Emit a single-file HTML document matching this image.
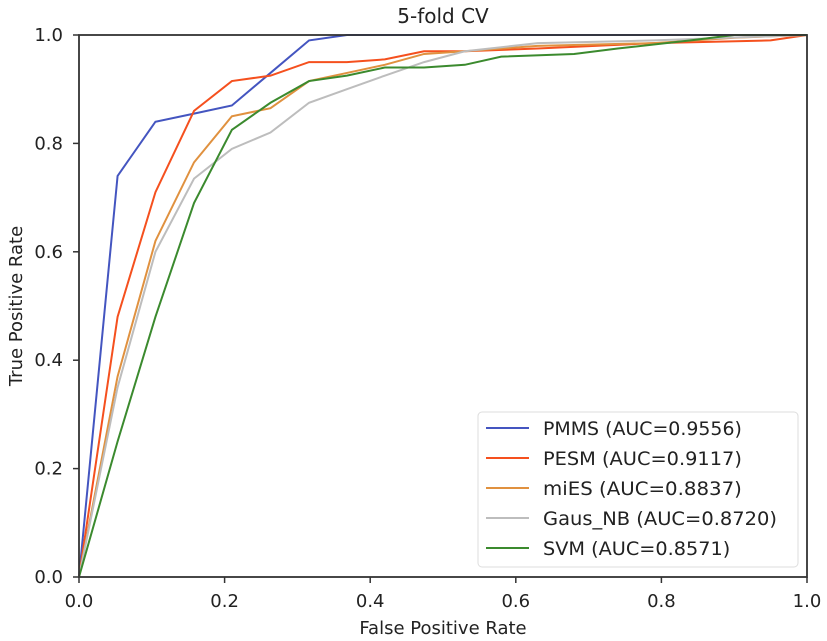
<!DOCTYPE html>
<html><head><meta charset="utf-8"><style>
body{margin:0;background:#fff;}
svg{display:block;font-family:"DejaVu Sans","Liberation Sans",sans-serif;}
</style></head><body>
<svg id="chart" width="827" height="641">
<text x="443" y="23" font-size="20" text-anchor="middle" fill="#222">5-fold CV</text>
<text x="443" y="634" font-size="18" text-anchor="middle" fill="#222">False Positive Rate</text>
<text transform="translate(22,306) rotate(-90)" font-size="18" text-anchor="middle" fill="#222">True Positive Rate</text>
<g id="axes"></g><g id="series"></g>
<rect x="79" y="35" width="728" height="542" fill="none" stroke="#333" stroke-width="1.8"/>
<g id="legend"></g>
</svg>
<script>
const xTicks=[0,0.2,0.4,0.6,0.8,1.0];
const yTicks=[0,0.2,0.4,0.6,0.8,1.0];
const tickLabels=["0.0","0.2","0.4","0.6","0.8","1.0"];
const seriesNames=["PMMS (AUC=0.9556)","PESM (AUC=0.9117)","miES (AUC=0.8837)","Gaus_NB (AUC=0.8720)","SVM (AUC=0.8571)"];
const seriesColors=["#4455c0","#f5501e","#e0913f","#bdbdbd","#3b8a2e"];
const pmmsX=[0,0.053,0.105,0.158,0.21,0.263,0.316,0.368,1];
const pmmsY=[0,0.74,0.84,0.855,0.87,0.93,0.99,1,1];
const pesmX=[0,0.053,0.105,0.158,0.21,0.263,0.316,0.368,0.42,0.474,0.53,0.63,0.79,0.95,1];
const pesmY=[0,0.48,0.71,0.86,0.915,0.925,0.95,0.95,0.955,0.97,0.97,0.975,0.985,0.99,1];
const miesX=[0,0.053,0.105,0.158,0.21,0.263,0.316,0.368,0.42,0.474,0.53,0.63,0.79,0.9,1];
const miesY=[0,0.37,0.62,0.765,0.85,0.865,0.915,0.93,0.945,0.965,0.97,0.98,0.985,0.995,1];
const gausX=[0,0.053,0.105,0.158,0.21,0.263,0.316,0.368,0.42,0.474,0.53,0.63,0.79,1];
const gausY=[0,0.35,0.6,0.735,0.79,0.82,0.875,0.9,0.925,0.95,0.97,0.985,0.99,1];
const svmX=[0,0.053,0.105,0.158,0.21,0.263,0.316,0.368,0.42,0.474,0.53,0.58,0.68,0.74,0.84,0.9,1];
const svmY=[0,0.25,0.48,0.69,0.825,0.875,0.915,0.925,0.94,0.94,0.945,0.96,0.965,0.975,0.99,1,1];
const allX=[pmmsX,pesmX,miesX,gausX,svmX];
const allY=[pmmsY,pesmY,miesY,gausY,svmY];
const X0=79,X1=807,Y0=577,Y1=35;
function sx(v){return X0+v*(X1-X0);}
function sy(v){return Y0-v*(Y0-Y1);}
const NS="http://www.w3.org/2000/svg";
const axes=document.getElementById('axes');
xTicks.forEach((t,i)=>{
  const l=document.createElementNS(NS,'line');
  
  
  l.setAttribute('x1',sx(t));l.setAttribute('x2',sx(t));l.setAttribute('y1',Y0);l.setAttribute('y2',Y0+6);l.setAttribute('stroke','#333');l.setAttribute('stroke-width','1.5');
  axes.appendChild(l);
  const tx=document.createElementNS(NS,'text');
  
  
  tx.setAttribute('x',sx(t));tx.setAttribute('y',Y0+30);tx.setAttribute('font-size','18');tx.setAttribute('text-anchor','middle');tx.setAttribute('fill','#222');
  tx.textContent=tickLabels[i];axes.appendChild(tx);
});
yTicks.forEach((t,i)=>{
  const l=document.createElementNS(NS,'line');
  
  
  l.setAttribute('x1',X0-6);l.setAttribute('x2',X0);l.setAttribute('y1',sy(t));l.setAttribute('y2',sy(t));l.setAttribute('stroke','#333');l.setAttribute('stroke-width','1.5');
  axes.appendChild(l);
  const tx=document.createElementNS(NS,'text');
  
  
  tx.setAttribute('x',X0-16);tx.setAttribute('y',sy(t)+6);tx.setAttribute('font-size','18');tx.setAttribute('text-anchor','end');tx.setAttribute('fill','#222');
  tx.textContent=tickLabels[i];axes.appendChild(tx);
});
const sg=document.getElementById('series');
allX.forEach((xs,k)=>{
  const p=document.createElementNS(NS,'polyline');
  
  
  p.setAttribute('points',xs.map((x,i)=>sx(x)+','+sy(allY[k][i])).join(' '));
  p.setAttribute('fill','none');p.setAttribute('stroke',seriesColors[k]);p.setAttribute('stroke-width','2');
  sg.appendChild(p);
});
const lg=document.getElementById('legend');
const box=document.createElementNS(NS,'rect');


box.setAttribute('x',478);box.setAttribute('y',412);box.setAttribute('width',320);box.setAttribute('height',155);box.setAttribute('rx',4);
box.setAttribute('fill','#fff');box.setAttribute('stroke','#ddd');lg.appendChild(box);
seriesNames.forEach((n,k)=>{
  const y=428+k*30;
  const l=document.createElementNS(NS,'line');
  
  
  l.setAttribute('x1',486);l.setAttribute('x2',529);l.setAttribute('y1',y);l.setAttribute('y2',y);l.setAttribute('stroke',seriesColors[k]);l.setAttribute('stroke-width','2');
  lg.appendChild(l);
  const t=document.createElementNS(NS,'text');
  
  
  t.setAttribute('x',543);t.setAttribute('y',y+7);t.setAttribute('font-size','19');t.setAttribute('fill','#222');
  t.setAttribute('textLength',n.length*11.7);t.setAttribute('lengthAdjust','spacingAndGlyphs');
  t.textContent=n;lg.appendChild(t);
});
</script>
</body></html>
